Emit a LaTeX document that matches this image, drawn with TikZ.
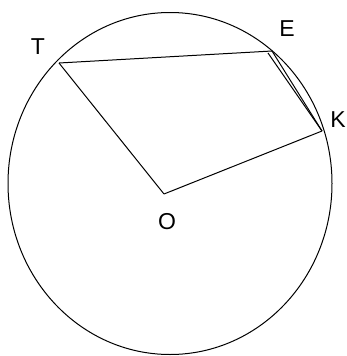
\documentclass[tikz,border=0pt]{standalone}
\usepackage{fontspec}
\setmainfont{Liberation Sans}
\usetikzlibrary{positioning}

\begin{document}
\begin{tikzpicture}[
        x=1pt, y=-1pt,
        edge/.style={draw=black, line width=1pt},
        ptlabel/.style={inner sep=0pt, font=\fontsize{23}{23}\selectfont}
    ]
        \useasboundingbox (0,0) rectangle (347,356);

        % Circle
        \draw[edge] (170,183.5) ellipse [x radius=162, y radius=171];

        % Points
        \coordinate (t) at (59,63);
        \coordinate (e) at (272,51);
        \coordinate (e2) at (268,53);
        \coordinate (k) at (322,131);
        \coordinate (o) at (164,194);

        % Labels
        \node[ptlabel] (tlabel) at (38,47) {T};
        \node[ptlabel] (elabel) at (287,29) {E};
        \node[ptlabel] (klabel) at (338,120) {K};
        \node[ptlabel] (olabel) at (167,222) {O};

        % Segments
        \draw[edge] (t) -- (e);
        \draw[edge] (e) -- (k);
        \draw[edge] (e2) -- (k);
        \draw[edge] (t) -- (o);
        \draw[edge] (o) -- (k);

    \end{tikzpicture}
\end{document}
